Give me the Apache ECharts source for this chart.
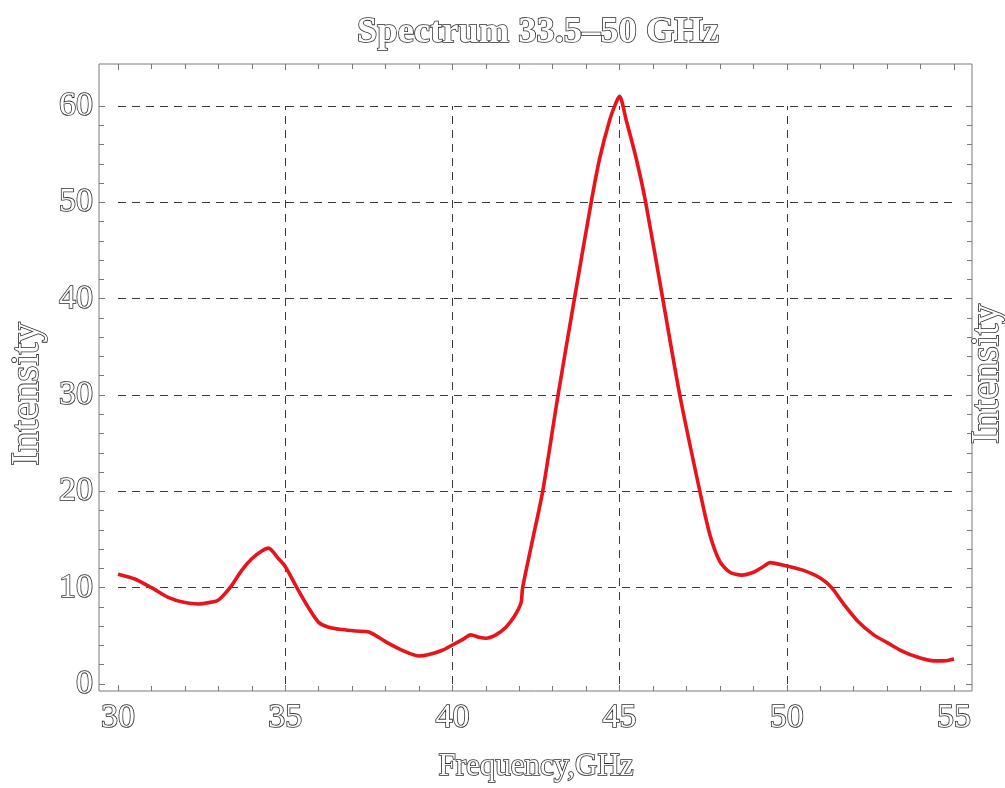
<!DOCTYPE html>
<html>
<head>
<meta charset="utf-8">
<title>Spectrum 33.5–50 GHz</title>
<script src="https://cdn.jsdelivr.net/npm/echarts@6/dist/echarts.min.js"></script>
<style>
  html, body { margin: 0; padding: 0; background: #fff; }
  #chart { width: 1005px; height: 788px; }
</style>
</head>
<body>
<div id="chart"></div>
<script>
// Measured spectrum: frequency (GHz) and intensity
const frequency = [
  30.0, 30.5, 31.0, 31.5, 32.0, 32.4, 32.8, 33.0, 33.35, 33.7, 34.0, 34.3, 34.5,
  34.8, 35.0, 35.35, 35.7, 36.0, 36.3, 36.7, 37.1, 37.5, 38.0, 38.5, 39.0, 39.3,
  39.7, 40.0, 40.3, 40.55, 40.8, 41.0, 41.3, 41.6, 41.85, 42.05, 42.1, 42.4, 42.7,
  43.16, 43.65, 44.15, 44.4, 44.7, 44.9, 45.0, 45.2, 45.5, 45.78, 46.29, 46.8,
  47.4, 47.7, 48.0, 48.3, 48.65, 49.0, 49.3, 49.5, 50.0, 50.5, 51.0, 51.34, 51.7,
  52.1, 52.6, 53.0, 53.4, 53.9, 54.4, 54.7, 55.0
];
const intensity = [
  11.4, 10.9, 10.0, 9.0, 8.45, 8.3, 8.5, 8.7, 10.0, 11.8, 13.0, 13.8, 14.1,
  13.0, 12.2, 10.0, 7.9, 6.4, 5.9, 5.65, 5.5, 5.4, 4.4, 3.5, 2.9, 3.05,
  3.5, 4.05, 4.6, 5.1, 4.85, 4.75, 5.1, 5.9, 7.0, 8.4, 10.0, 15.0, 20.0,
  30.0, 40.0, 50.0, 54.5, 58.5, 60.4, 61.0, 58.5, 54.5, 50.0, 40.0, 30.0,
  20.0, 15.5, 12.7, 11.6, 11.3, 11.6, 12.2, 12.6, 12.25, 11.8, 11.0, 10.0, 8.3,
  6.6, 5.1, 4.3, 3.5, 2.8, 2.4, 2.4, 2.6
];
// Dashed reference grid positions
const gridFreq = [35, 40, 45, 50];
const gridIntensity = [10, 20, 30, 40, 50, 60];

const titleText = 'Spectrum 33.5–50 GHz';
const xName = 'Frequency,GHz';
const yName = 'Intensity';

const serif = '"Liberation Serif", "DejaVu Serif", serif';
const ink = '#2e2e2e';
const inkWidth = 1.6;
// hollow, engraved-looking lettering
const outlined = (size) => ({
  fontFamily: serif,
  fontSize: size,
  color: '#ffffff',
  textBorderColor: ink,
  textBorderWidth: inkWidth
});
const outlinedGraphic = (text, size) => ({
  text: text, align: 'center', verticalAlign: 'middle',
  font: size + 'px ' + serif, fill: '#ffffff', stroke: ink, lineWidth: inkWidth
});

const frameColor = '#7a7a7a';
const tickStyle = { show: true, inside: true, length: 6, lineStyle: { color: frameColor, width: 1 } };
const minorStyle = { show: true, splitNumber: 5, length: 5, lineStyle: { color: frameColor, width: 1 } };

// Plot geometry (pixels)
const frame = { left: 99, top: 64, right: 972, bottom: 691 };
const data = { left: 118, top: 106, right: 954, bottom: 684 };

const hiddenX = (g) => ({ type: 'value', gridIndex: g, show: false, min: 0, max: 1, splitLine: { show: false } });
const hiddenY = (g) => ({ type: 'value', gridIndex: g, show: false, min: 0, max: 1, splitLine: { show: false } });

const freqAxis = (g, position, withLabels) => ({
  type: 'value', gridIndex: g, position: position,
  min: 30, max: 55, interval: 5,
  axisLine: { show: false },
  axisTick: tickStyle,
  minorTick: minorStyle,
  splitLine: { show: false },
  axisLabel: withLabels ? Object.assign({ margin: 10 }, outlined(34)) : { show: false }
});
const intensityAxis = (g, position, withLabels) => ({
  type: 'value', gridIndex: g, position: position,
  min: 0, max: 60, interval: 10,
  axisLine: { show: false },
  axisTick: tickStyle,
  minorTick: minorStyle,
  splitLine: { show: false },
  axisLabel: withLabels ? Object.assign({ margin: 6 }, outlined(34)) : { show: false }
});

const chart = echarts.init(document.getElementById('chart'), null, { renderer: 'canvas' });

chart.setOption({
  animation: false,
  backgroundColor: '#ffffff',
  title: {
    text: titleText,
    left: 533,
    textAlign: 'center',
    top: 9,
    textStyle: outlined(36.5)
  },
  grid: [
    // 0: data area, 30–55 GHz by 0–60
    { left: data.left, top: data.top, width: data.right - data.left, height: data.bottom - data.top, show: false },
    // 1: outer frame
    { left: frame.left, top: frame.top, width: frame.right - frame.left, height: frame.bottom - frame.top,
      show: true, borderColor: frameColor, borderWidth: 1, backgroundColor: 'transparent' },
    // 2: frequency ticks along the bottom and top edges of the frame
    { left: data.left, top: frame.top, width: data.right - data.left, height: frame.bottom - frame.top, show: false },
    // 3: intensity ticks along the left and right edges of the frame
    { left: frame.left, top: data.top, width: frame.right - frame.left, height: data.bottom - data.top, show: false }
  ],
  xAxis: [
    { type: 'value', gridIndex: 0, show: false, min: 30, max: 55, splitLine: { show: false } },
    hiddenX(1),
    freqAxis(2, 'bottom', true),
    freqAxis(2, 'top', false),
    hiddenX(3)
  ],
  yAxis: [
    { type: 'value', gridIndex: 0, show: false, min: 0, max: 60, splitLine: { show: false } },
    hiddenY(1),
    hiddenY(2),
    intensityAxis(3, 'left', true),
    intensityAxis(3, 'right', false)
  ],
  graphic: [
    { type: 'text', x: 536, y: 767, silent: true, style: outlinedGraphic(xName, 31) },
    { type: 'text', x: 27, y: 394, rotation: Math.PI / 2, silent: true, style: outlinedGraphic(yName, 41) },
    { type: 'text', x: 987, y: 374, rotation: Math.PI / 2, silent: true, style: outlinedGraphic(yName, 40) }
  ],
  series: [{
    type: 'line',
    xAxisIndex: 0,
    yAxisIndex: 0,
    data: frequency.map((f, i) => [f, intensity[i]]),
    showSymbol: false,
    clip: false,
    smooth: 0.25,
    lineStyle: { color: '#e8141b', width: 3.6 },
    z: 5,
    markLine: {
      silent: true,
      symbol: 'none',
      label: { show: false },
      lineStyle: { color: '#3a3a3a', type: [8, 6], width: 1 },
      z: 1,
      data: [
        ...gridFreq.map(v => ({ xAxis: v })),
        ...gridIntensity.map(v => ({ yAxis: v }))
      ]
    }
  }]
});
</script>
</body>
</html>
